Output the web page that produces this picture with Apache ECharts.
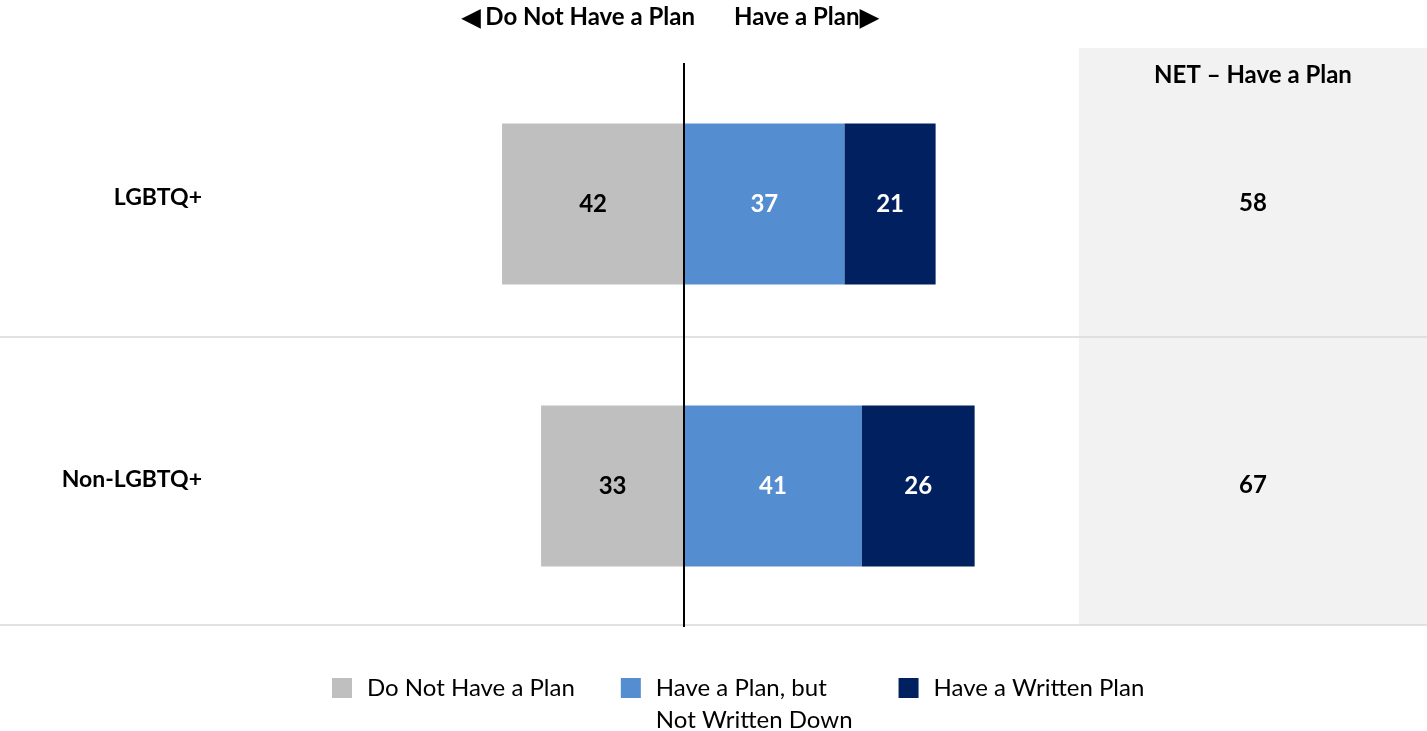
<!DOCTYPE html>
<html><head><meta charset="utf-8">
<script src="https://cdn.jsdelivr.net/npm/echarts@6/dist/echarts.min.js"></script>
<style>html,body{margin:0;padding:0;background:#fff}#c{width:1427px;height:731px}</style>
</head><body><div id="c"></div>
<script>
const categories = ['LGBTQ+', 'Non-LGBTQ+'];
const seriesNames = ['Do Not Have a Plan', 'Have a Plan, but\nNot Written Down', 'Have a Written Plan'];
const noPlan = [42, 33];
const planNotWritten = [37, 41];
const writtenPlan = [21, 26];
const netHavePlan = [58, 67];
const headerLeft = '◀ Do Not Have a Plan';
const headerRight = 'Have a Plan▶';
const netTitle = 'NET – Have a Plan';

const FONT = 'Lato, "Open Sans", sans-serif';
const chart = echarts.init(document.getElementById('c'), null, {renderer: 'canvas'});
const labelBold = {show: true, position: 'inside', fontFamily: FONT, fontWeight: 'bold', fontSize: 24};
const LH = 32;

chart.setOption({
  animation: false,
  textStyle: {fontFamily: FONT},
  grid: [
    {left: 424, width: 607, top: 63, height: 564},
    {left: 1079, right: 0, top: 63, height: 564}
  ],
  xAxis: [
    {gridIndex: 0, type: 'value', min: -60, max: 80, show: false},
    {gridIndex: 1, type: 'value', min: 0, max: 1, show: false}
  ],
  yAxis: [
    {gridIndex: 0, type: 'category', data: categories, inverse: true,
     axisLine: {show: false}, axisTick: {show: false}, splitLine: {show: false},
     axisLabel: {margin: 222, fontFamily: FONT, fontWeight: 'bold', fontSize: 23, color: '#000',
       verticalAlign: 'bottom', lineHeight: 12}},
    {gridIndex: 1, type: 'category', data: categories, inverse: true, show: false}
  ],
  legend: {
    left: 332, top: 672 - LH, padding: 0, itemWidth: 20, itemHeight: 20, itemGap: 46, icon: 'rect',
    formatter: name => (name === seriesNames[1] ? ' \n' + name : name),
    textStyle: {fontFamily: FONT, fontSize: 24, color: '#000', lineHeight: LH, padding: [0, 0, 0, 10]},
    data: seriesNames
  },
  graphic: [
    {type: 'rect', z: -10, shape: {x: 1079, y: 48, width: 348, height: 577}, style: {fill: '#f2f2f2'}},
    {type: 'line', z: 1, shape: {x1: 0, y1: 337, x2: 1427, y2: 337}, style: {stroke: '#d9d9d9', lineWidth: 1.5}},
    {type: 'line', z: 1, shape: {x1: 0, y1: 625, x2: 1427, y2: 625}, style: {stroke: '#d9d9d9', lineWidth: 1.5}},
    {type: 'text', x: 1253, y: 75, style: {text: netTitle, align: 'center', verticalAlign: 'middle', font: 'bold 24px ' + FONT, fill: '#000'}},
    {type: 'text', x: 695, y: 17, style: {text: headerLeft, align: 'right', verticalAlign: 'middle', font: 'bold 24px ' + FONT, fill: '#000'}},
    {type: 'text', x: 734, y: 17, style: {text: headerRight, align: 'left', verticalAlign: 'middle', font: 'bold 24px ' + FONT, fill: '#000'}}
  ],
  series: [
    {name: seriesNames[0], type: 'bar', stack: 'total', barWidth: 161,
     data: noPlan.map(v => -v), itemStyle: {color: '#bfbfbf'},
     label: Object.assign({}, labelBold, {color: '#000', formatter: p => Math.abs(p.value)}),
     markLine: {silent: true, symbol: 'none', label: {show: false},
       lineStyle: {color: '#000', width: 2, type: 'solid'}, data: [{xAxis: 0}]}},
    {name: seriesNames[1], type: 'bar', stack: 'total', barWidth: 161,
     data: planNotWritten, itemStyle: {color: '#558ed0'},
     label: Object.assign({}, labelBold, {color: '#fff'})},
    {name: seriesNames[2], type: 'bar', stack: 'total', barWidth: 161,
     data: writtenPlan, itemStyle: {color: '#002060'},
     label: Object.assign({}, labelBold, {color: '#fff'})},
    {name: 'NET', type: 'bar', xAxisIndex: 1, yAxisIndex: 1, barWidth: '100%',
     data: netHavePlan.map(() => 1), itemStyle: {color: 'rgba(0,0,0,0)'},
     label: Object.assign({}, labelBold, {color: '#000', offset: [0, -1], formatter: p => netHavePlan[p.dataIndex]})}
  ]
});
</script></body></html>
